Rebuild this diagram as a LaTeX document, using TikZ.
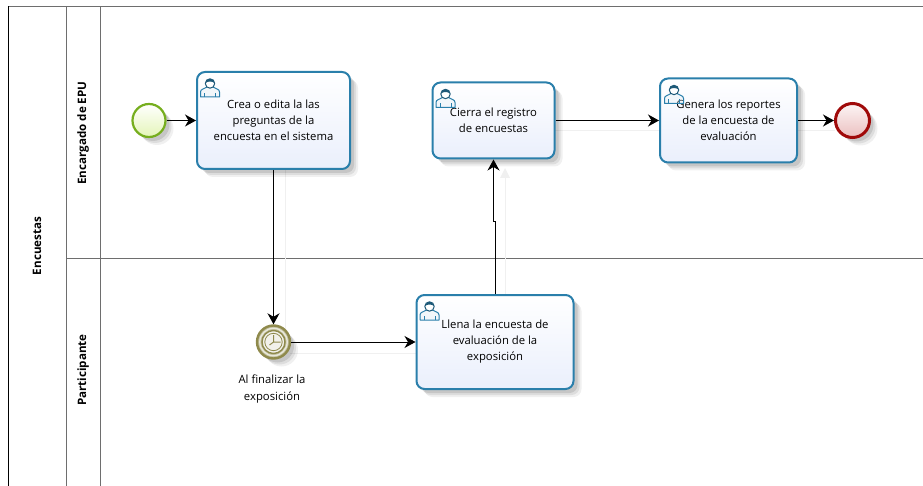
\documentclass[tikz,border=0pt]{standalone}
\usepackage{fontspec}
\setmainfont{Open Sans}
\usetikzlibrary{arrows.meta,shadows}
\definecolor{taskblue}{HTML}{2A7FAB}
\definecolor{taskfill}{HTML}{EAEFFC}
\definecolor{startgreen}{HTML}{76AE1E}
\definecolor{startfill}{HTML}{E4F5B8}
\definecolor{endred}{HTML}{A00A0A}
\definecolor{endfill}{HTML}{EBBFBF}
\definecolor{timerolive}{HTML}{8F8A4C}
\definecolor{lanegray}{HTML}{6E6E6E}
\tikzset{
  softshadow/.style={general shadow={shadow xshift=8pt,shadow yshift=-8pt,fill=black,opacity=.06},
    general shadow={shadow xshift=6pt,shadow yshift=-6pt,fill=black,opacity=.08},
    general shadow={shadow xshift=4pt,shadow yshift=-4pt,fill=black,opacity=.10}},
  taskbox/.style={draw=taskblue,line width=2pt,rounded corners=8pt,top color=white,bottom color=taskfill,
    align=center,inner sep=0pt,font=\fontsize{11.3}{16}\selectfont,softshadow},
  startevent/.style={circle,draw=startgreen,line width=2.2pt,minimum size=33pt,inner sep=0pt,
    top color=white,bottom color=startfill,softshadow},
  endevent/.style={circle,draw=endred,line width=3pt,minimum size=34pt,inner sep=0pt,
    top color=white!85!endfill,bottom color=endfill,softshadow},
  timerevent/.style={circle,draw=timerolive,line width=2.4pt,minimum size=33pt,inner sep=0pt,
    fill=timerolive!55!white,softshadow},
  flow/.style={line width=1pt,-{Stealth[length=11pt,width=12pt,inset=3.5pt]}},
  ghostflow/.style={line width=1pt,black!6},
  lane/.style={line width=1pt,lanegray},
  lanetext/.style={rotate=90,font=\fontsize{11.6}{13}\selectfont\bfseries},
  usericon/.pic={
    \draw[taskblue,line width=1pt,line join=round,fill=white!85!taskblue,fill opacity=.3]
      (-9.5,9) -- (-9.5,4) .. controls (-9.5,1) and (-6,1) .. (-3,-1) -- (3,-1)
      .. controls (6,1) and (9.5,1) .. (9.5,4) -- (9.5,9) -- cycle;
    \draw[taskblue,line width=.7pt] (-5.5,9) -- (-5.5,5) (5.5,9) -- (5.5,5);
    \draw[taskblue!70!black,line width=1pt,fill=white] (0,-4.5) circle [radius=4.7];
    \fill[taskblue!70!black] (-4.7,-5) .. controls (-3,-10.5) and (3,-10.5) .. (4.7,-5)
      .. controls (2,-7) and (-2,-7) .. cycle;
  }
}
\begin{document}
\begin{tikzpicture}[x=1pt,y=-1pt]
  \useasboundingbox (0,0) rectangle (923,486);
  % pool and lanes
  \draw[lane] (8,6.5)--(923,6.5);
  \draw[lane] (66,259)--(923,259);
  \draw[lane] (66,6.5)--(66,486);
  \draw[lane] (100,6.5)--(100,486);
  \draw[line width=1pt,black] (8.5,6.5)--(8.5,486);
  \node[lanetext] (encuestas) at (37,246) {Encuestas};
  \node[lanetext] (encargado) at (83,133) {Encargado de EPU};
  \node[lanetext] (participante) at (83,370) {Participante};
  % faint copies of the flows
  \draw[ghostflow] (285,170)--(285,335);
  \draw[ghostflow] (290,353)--(416,353);
  \draw[ghostflow] (505,295)--(505,175);
  \fill[black!6] (505,168)--(510,178)--(500,178)--cycle;
  \draw[ghostflow] (555,131)--(660,131);
  \draw[ghostflow] (797,131)--(835,131);
  % events and tasks
  \node[startevent] (inicio) at (149,120.5) {};
  \node[taskbox,minimum width=153pt,minimum height=97pt] (crea) at (273.5,120.5)
    {Crea o edita la las\\preguntas de la\\encuesta en el sistema};
  \node[taskbox,minimum width=122pt,minimum height=76pt] (cierra) at (493.5,120.5)
    {Cierra el registro\\de encuestas};
  \node[taskbox,minimum width=137pt,minimum height=84pt] (genera) at (728.5,120.5)
    {Genera los reportes\\de la encuesta de\\evaluación};
  \node[endevent] (fin) at (852.5,120.5) {};
  \node[timerevent] (reloj) at (273.5,342) {};
  \node[taskbox,minimum width=157pt,minimum height=94pt] (llena) at (495,342)
    {Llena la encuesta de\\evaluación de la\\exposición};
  \node[align=center,font=\fontsize{11.3}{16.5}\selectfont] (relojtexto) at (272,389)
    {Al finalizar la\\exposición};
  % timer face
  \draw[white!80!timerolive,line width=1.4pt] (reloj) circle [radius=13.7];
  \draw[timerolive,line width=1.4pt,fill=white!88!timerolive] (reloj) circle [radius=11.5];
  \draw[timerolive,line width=.8pt] (reloj) circle [radius=8.7];
  \draw[timerolive,line width=1pt] (reloj.center) -- ++(0,-7) (reloj.center) -- ++(7,0)
    (reloj.center) -- ++(-4,3);
  % user icons
  \pic at ([shift={(14,17)}]crea.north west) {usericon};
  \pic at ([shift={(14,17)}]cierra.north west) {usericon};
  \pic at ([shift={(15,17)}]genera.north west) {usericon};
  \pic at ([shift={(14,17)}]llena.north west) {usericon};
  % flows
  \coordinate (quiebre) at (495,222);
  \draw[flow] (inicio) -- (crea);
  \draw[flow] (crea) -- (reloj);
  \draw[flow] (reloj) -- (llena);
  \draw[flow] (llena.north) -- (quiebre) -| (cierra.south);
  \draw[flow] (cierra) -- (genera);
  \draw[flow] (genera) -- (fin);
\end{tikzpicture}
\end{document}
